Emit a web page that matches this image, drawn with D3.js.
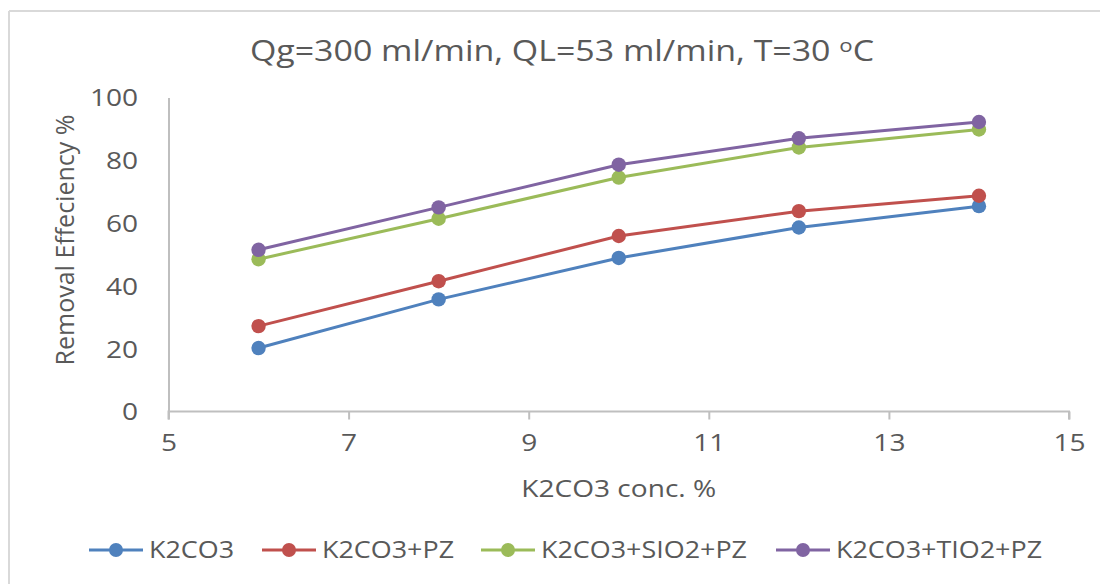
<!DOCTYPE html>
<html>
<head>
<meta charset="utf-8">
<script src="https://cdn.jsdelivr.net/npm/d3@7/dist/d3.min.js"></script>
<style>
  html, body { margin: 0; padding: 0; background: #fff; }
  svg { display: block; }
  text { font-family: "Open Sans", "Liberation Sans", sans-serif; fill: #595959; }
</style>
</head>
<body>
<svg id="chart" width="1100" height="584"></svg>
<script>
// K2CO3 concentration (%) on the x axis
const concentrations = [6, 8, 10, 12, 14];

// Removal efficiency (%) for each solvent
const k2co3        = [20.2, 35.7, 48.9, 58.6, 65.4];
const k2co3Pz      = [27.2, 41.5, 55.9, 63.8, 68.7];
const k2co3SiO2Pz  = [48.5, 61.4, 74.5, 84.1, 89.8];
const k2co3TiO2Pz  = [51.5, 65.0, 78.6, 87.0, 92.2];

const seriesNames  = ["K2CO3", "K2CO3+PZ", "K2CO3+SIO2+PZ", "K2CO3+TIO2+PZ"];
const seriesColors = ["#4f81bd", "#c0504d", "#9bbb59", "#8064a2"];

const xTicks = [5, 7, 9, 11, 13, 15];
const yTicks = [0, 20, 40, 60, 80, 100];

const seriesValues = [k2co3, k2co3Pz, k2co3SiO2Pz, k2co3TiO2Pz];
const series = seriesNames.map((name, i) => ({
  name,
  color: seriesColors[i],
  points: concentrations.map((c, j) => ({ x: c, y: seriesValues[i][j] }))
}));

// text is drawn slightly widened horizontally
const STRETCH = 1.17;

const svg = d3.select("#chart");

function label(parent, x, y, str, size, anchor) {
  return parent.append("text")
    .attr("transform", `translate(${x},${y}) scale(${STRETCH},1)`)
    .attr("text-anchor", anchor || "start")
    .style("font-size", size + "px")
    .text(str);
}

// chart-area frame (top and left edges visible)
svg.append("line").attr("x1", 9).attr("x2", 1100).attr("y1", 11).attr("y2", 11)
  .attr("stroke", "#d9d9d9").attr("stroke-width", 2);
svg.append("line").attr("x1", 9).attr("x2", 9).attr("y1", 11).attr("y2", 584)
  .attr("stroke", "#d9d9d9").attr("stroke-width", 2);

const x = d3.scaleLinear().domain([5, 15]).range([168.5, 1069]);
const y = d3.scaleLinear().domain([0, 100]).range([411.5, 97.5]);

// title
const title = svg.append("text")
  .attr("transform", `translate(562,61) scale(${STRETCH},1)`)
  .attr("text-anchor", "middle")
  .style("font-size", "29px");
title.append("tspan").text("Qg=300 ml/min, QL=53 ml/min, T=30 ");
title.append("tspan").text("o").style("font-size", "19px").attr("dy", -9);
title.append("tspan").text("C").attr("dy", 9);

// axes
const xAxis = svg.append("g")
  .attr("transform", `translate(0,${y(0)})`)
  .call(d3.axisBottom(x).tickValues(xTicks).tickFormat(d3.format("d")).tickSize(8).tickPadding(14));
const yAxis = svg.append("g")
  .attr("transform", `translate(${x(5)},0)`)
  .call(d3.axisLeft(y).tickValues(yTicks).tickFormat(d3.format("d")).tickSize(0).tickPadding(26));

[xAxis, yAxis].forEach(g => {
  g.select(".domain").attr("stroke", "#bfbfbf").attr("stroke-width", 2);
  g.selectAll(".tick line").attr("stroke", "#bfbfbf").attr("stroke-width", 2);
  g.selectAll(".tick text").style("font-size", "24px").attr("fill", "#595959")
    .style("font-family", "'Open Sans', 'Liberation Sans', sans-serif")
    .attr("transform", `scale(${STRETCH},1)`);
});
xAxis.select(".domain").attr("d", `M${x(5)},8V0H${x(15)}V8`);
yAxis.selectAll(".tick text").attr("dy", "0.35em");

// axis titles
label(svg, x(10), 497, "K2CO3 conc. %", 24, "middle");
svg.append("text")
  .attr("transform", `translate(74,240) rotate(-90)`)
  .attr("text-anchor", "middle")
  .style("font-size", "25px")
  .text("Removal Effeciency %");

// lines and markers
const line = d3.line().x(d => x(d.x)).y(d => y(d.y));
const plot = svg.append("g");
series.forEach(s => {
  plot.append("path")
    .datum(s.points)
    .attr("d", line)
    .attr("fill", "none")
    .attr("stroke", s.color)
    .attr("stroke-width", 3);
  plot.selectAll(null)
    .data(s.points)
    .enter().append("circle")
    .attr("cx", d => x(d.x))
    .attr("cy", d => y(d.y))
    .attr("r", 7.2)
    .attr("fill", s.color);
});

// legend
const legendX = [89, 262, 481, 776];
const legend = svg.append("g");
series.forEach((s, i) => {
  const g = legend.append("g").attr("transform", `translate(${legendX[i]},550)`);
  g.append("line").attr("x1", 0).attr("x2", 54).attr("y1", 0).attr("y2", 0)
    .attr("stroke", s.color).attr("stroke-width", 3);
  g.append("circle").attr("cx", 27).attr("cy", 0).attr("r", 7).attr("fill", s.color);
  label(g, 60, 0, s.name, 23).attr("dy", "0.35em");
});
</script>
</body>
</html>
